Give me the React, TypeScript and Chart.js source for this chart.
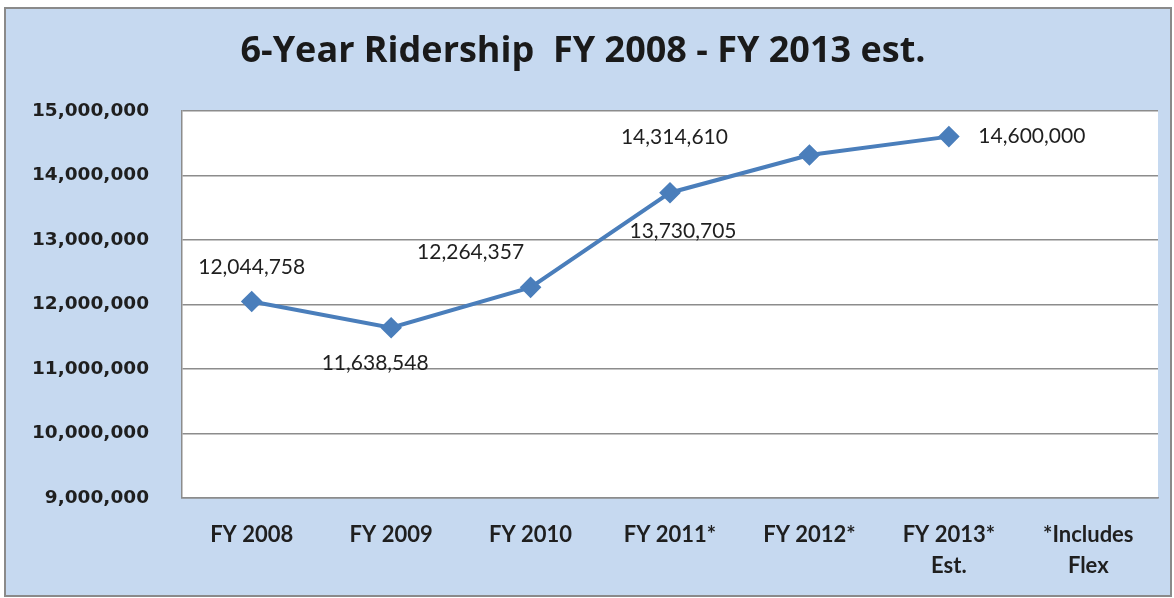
import React, { useEffect, useRef } from "react";
import { Chart, registerables } from "chart.js";

Chart.register(...registerables);

const chartTitle = "6-Year Ridership  FY 2008 - FY 2013 est.";
const categories: (string | string[])[] = [
  "FY 2008",
  "FY 2009",
  "FY 2010",
  "FY 2011*",
  "FY 2012*",
  ["FY 2013*", "Est."],
  ["*Includes", "Flex"],
];
const ridership: (number | null)[] = [12044758, 11638548, 12264357, 13730705, 14314610, 14600000, null];
const yMin = 9000000;
const yMax = 15000000;
const yStep = 1000000;

const FONT = "Lato, 'Open Sans', sans-serif";
const LINE_BLUE = "#4a7ebb";

const fmt = (v: number) => v.toLocaleString("en-US");

export default function App() {
  const ref = useRef<HTMLCanvasElement | null>(null);

  useEffect(() => {
    if (!ref.current) return;
    // label placement relative to each point (style only)
    const labelOffsets: [number, number][] = [
      [0, -34],
      [-16, 36],
      [-60, -35],
      [13, 39],
      [-135, -18],
      [83, 0],
    ];

    const plotBg = {
      id: "plotBg",
      beforeDraw(chart: any) {
        const { ctx, chartArea } = chart;
        ctx.save();
        ctx.fillStyle = "#ffffff";
        ctx.fillRect(chartArea.left, chartArea.top, chartArea.right - chartArea.left, chartArea.bottom - chartArea.top);
        ctx.restore();
      },
    };

    const dataLabels = {
      id: "dataLabels",
      afterDatasetsDraw(chart: any) {
        const { ctx } = chart;
        const meta = chart.getDatasetMeta(0);
        ctx.save();
        ctx.font = `21px ${FONT}`;
        ctx.fillStyle = "#1f1f1f";
        ctx.textAlign = "center";
        ctx.textBaseline = "middle";
        meta.data.forEach((pt: any, i: number) => {
          const v = ridership[i];
          if (v == null) return;
          const off = labelOffsets[i] || [0, -30];
          ctx.fillText(fmt(v), pt.x + off[0], pt.y + off[1]);
        });
        ctx.restore();
      },
    };

    const chart = new Chart(ref.current, {
      type: "line",
      data: {
        labels: categories,
        datasets: [
          {
            data: ridership,
            borderColor: LINE_BLUE,
            backgroundColor: LINE_BLUE,
            borderWidth: 4,
            pointStyle: "rectRot",
            pointRadius: 8,
            pointBackgroundColor: LINE_BLUE,
            pointBorderColor: LINE_BLUE,
            tension: 0,
            spanGaps: false,
          },
        ],
      },
      options: {
        animation: false,
        responsive: false,
        maintainAspectRatio: false,
        layout: { padding: { left: 8, right: 16, top: 10, bottom: 0 } },
        plugins: {
          legend: { display: false },
          tooltip: { enabled: false },
          title: {
            display: true,
            text: chartTitle,
            color: "#1a1a1a",
            font: { family: "'Open Sans', Lato, sans-serif", size: 36, weight: "bold", lineHeight: 1.2 },
            padding: { top: 20, bottom: 37.6 },
          },
        },
        scales: {
          x: {
            offset: true,
            grid: { display: false, drawTicks: false },
            border: { display: true, color: "#8c8c8c", width: 1.5 },
            ticks: {
              color: "#1f1f1f",
              font: { family: FONT, size: 22, weight: "bold", lineHeight: 1.4 },
              padding: 22,
              maxRotation: 0,
              autoSkip: false,
            },
            afterFit(scale: any) {
              scale.height = 100;
            },
          },
          y: {
            min: yMin,
            max: yMax,
            grid: { color: "#8c8c8c", lineWidth: 1.5, drawTicks: false },
            border: { display: true, color: "#8c8c8c", width: 1.5 },
            ticks: {
              stepSize: yStep,
              color: "#1f1f1f",
              font: { family: "'DejaVu Sans', sans-serif", size: 18.5, weight: "bold" },
              padding: 33,
              callback: (v: any) => fmt(Number(v)),
            },
            afterFit(scale: any) {
              scale.width = 174;
            },
          },
        },
      },
      plugins: [plotBg, dataLabels],
    } as any);

    return () => chart.destroy();
  }, []);

  return (
    <div style={{ position: "fixed", left: 0, top: 0, width: 1174, height: 598, background: "#ffffff", overflow: "hidden" }}>
      <div
        style={{
          position: "absolute",
          left: 4,
          top: 7,
          width: 1164,
          height: 586,
          background: "#c6d9f0",
          border: "2px solid #8a8a8a",
        }}
      />
      <canvas ref={ref} width={1174} height={598} style={{ position: "absolute", left: 0, top: 0, width: 1174, height: 598 }} />
    </div>
  );
}
